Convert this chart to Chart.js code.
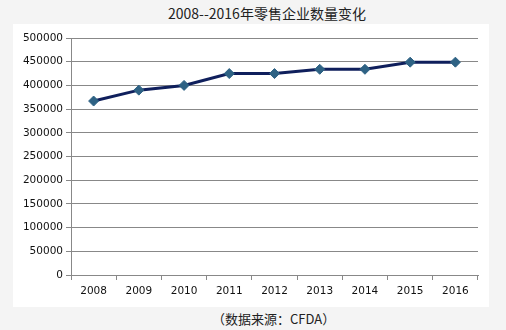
<!DOCTYPE html>
<html>
<head>
<meta charset="utf-8">
<script src="https://cdn.jsdelivr.net/npm/chart.js@4.4.1/dist/chart.umd.min.js"></script>
<style>
    html, body { margin: 0; padding: 0; }
    body { width: 506px; height: 330px; background: #f4f4f4; position: relative; overflow: hidden; }
    .caption {
        position: absolute; white-space: nowrap; color: #222;
        font-family: "Noto Sans CJK SC", "DejaVu Sans", sans-serif;
    }
    #title { left: 168px; top: 3px; font-size: 14px; }
    #source { left: 212px; top: 309px; font-size: 13px; }
    #panel { position: absolute; left: 13px; top: 24px; width: 476px; height: 283px; background: #fff; }
</style>
</head>
<body>
<div id="title" class="caption">2008--2016年零售企业数量变化</div>
<div id="panel"><canvas id="line-chart" width="476" height="283"></canvas></div>
<div id="source" class="caption">（数据来源：CFDA）</div>
<script>
// retail enterprise counts per year
var years = ['2008', '2009', '2010', '2011', '2012', '2013', '2014', '2015', '2016'];
var retailCounts = [367000, 390000, 400000, 425000, 425000, 434000, 434000, 449000, 449000];
var yTicks = { min: 0, max: 500000, step: 50000 };

var tickFont = { family: '"DejaVu Sans", Verdana, sans-serif', size: 10.5 };

function fixWidth(w) {
    return function (scale) { scale.width = w; };
}
function fixHeight(h) {
    return function (scale) { scale.height = h; };
}

var el = document.getElementById('line-chart');
var chart = new Chart(el, {
    type: 'line',
    data: {
        labels: years,
        datasets: [{
            label: '零售企业数量',
            data: retailCounts,
            borderColor: '#0f1f5c',
            borderWidth: 3,
            tension: 0,
            pointStyle: 'rectRot',
            pointRadius: 5,
            pointBackgroundColor: '#2e6284',
            pointBorderColor: '#2e6284',
            pointBorderWidth: 1
        }]
    },
    options: {
        responsive: false,
        animation: false,
        layout: { padding: { top: 14, right: 11, left: 0, bottom: 0 } },
        plugins: {
            legend: { display: false },
            tooltip: { enabled: false }
        },
        scales: {
            x: {
                offset: true,
                afterFit: fixHeight(32),
                grid: {
                    offset: true,
                    drawOnChartArea: false,
                    drawTicks: true,
                    tickLength: 5,
                    color: '#888'
                },
                border: { color: '#888', width: 1 },
                ticks: { color: '#111', font: tickFont, padding: 5, maxRotation: 0 }
            },
            y: {
                min: yTicks.min,
                max: yTicks.max,
                afterFit: fixWidth(58),
                grid: { color: '#888', tickLength: 5 },
                border: { color: '#888', width: 1 },
                ticks: {
                    stepSize: yTicks.step,
                    color: '#111',
                    font: tickFont,
                    padding: 3,
                    callback: function (value) { return String(value); }
                }
            }
        }
    }
});
</script>
</body>
</html>
